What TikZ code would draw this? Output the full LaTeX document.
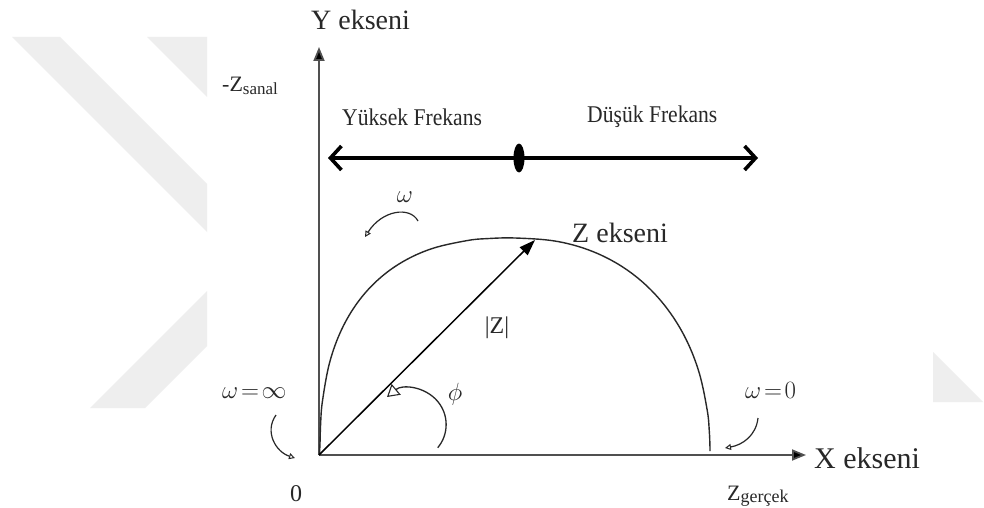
\documentclass[tikz,border=0pt]{standalone}
\usepackage{fontspec}
\usepackage{graphicx}
\setmainfont{Liberation Serif}
\usetikzlibrary{arrows.meta,shapes.geometric}
\definecolor{wm}{RGB}{238,238,238}
\definecolor{axisgray}{RGB}{80,80,80}
\definecolor{ink}{RGB}{40,40,40}
\tikzset{
  axisline/.style={draw=axisgray, line width=1.8pt, -{Triangle[length=14pt,width=11pt,fill=black]}},
  freqline/.style={draw=black, line width=3.6pt, {Straight Barb[length=11pt,width=24pt,line width=3.6pt]}-{Straight Barb[length=11pt,width=24pt,line width=3.6pt]}},
  curveline/.style={draw=ink, line width=1.4pt},
  vecline/.style={draw=black, line width=1.5pt, -{Triangle[length=16pt,width=11pt]}},
  smallarrow/.style={draw=ink, line width=1.2pt, -{Triangle[open,length=6pt,width=6pt,line width=1pt]}},
  lbl/.style={inner sep=0pt, text=ink},
  big/.style={font=\fontsize{28}{30}\selectfont},
  mid/.style={font=\fontsize{24}{26}\selectfont},
  freq/.style={font=\fontsize{24}{26}\selectfont},
}
\begin{document}
\begin{tikzpicture}[x=1pt,y=-1pt]
\useasboundingbox (0,0) rectangle (984,508);
\fill[white] (0,0) rectangle (984,508);
% watermark
\fill[wm] (12,37) -- (60,37) -- (207,184) -- (207,232) -- cycle;
\fill[wm] (147,37) -- (207,37) -- (207,97) -- cycle;
\fill[wm] (90,408) -- (145,408) -- (207,346) -- (207,291) -- cycle;
\fill[wm] (933,352) -- (933,402) -- (983,402) -- cycle;

% coordinates
\coordinate (O) at (319,455);
\coordinate (ytip) at (319,47);
\coordinate (xtip) at (806,455);
\coordinate (fl) at (328,158);
\coordinate (fr) at (758,158);
\coordinate (ztip) at (535,240);

% axes
\draw[axisline] (O) -- (ytip);
\draw[axisline] (O) -- (xtip);

% frequency arrow
\draw[freqline] (fl) -- (fr);
\node[ellipse, fill=black, minimum width=11pt, minimum height=29pt, inner sep=0pt] (dot) at (519,158) {};

% impedance curve
\draw[curveline] plot[smooth, tension=0.6] coordinates {
  (319.5,455) (320.1,440.2) (320.6,424.2) (322.4,401.5) (329.5,363.0) (341.2,330.4)
  (357.5,302.6) (378.1,279.7) (403.0,261.6) (432.3,248.5) (467.0,240.6) (487.3,238.6)
  (515,238) (554.7,241.0) (588.5,249.9) (618.9,264.6) (645.5,284.7) (668.0,309.8)
  (686.1,339.4) (699.3,373.2) (707.3,410.8) (709.3,431.4) (709.9,444.7) (710,451)};

% |Z| vector
\draw[vecline] (O) -- (ztip);

% phi arc
\draw[draw=ink, line width=1.3pt, {Triangle[open,length=12pt,width=14pt,line width=1.1pt]}-] (387,397) arc[start angle=-130, end angle=40, radius=36];

% labels
\node[lbl, big, anchor=base west] (yl) at (311,30) {Y ekseni};
\node[lbl, anchor=base west] (zs) at (222,92) {\fontsize{22}{24}\selectfont -Z\raisebox{-3pt}{\fontsize{17}{18}\selectfont sanal}};
\node[lbl, freq, anchor=base west] (yf) at (342,125) {\scalebox{0.9}[1]{Yüksek Frekans}};
\node[lbl, freq, anchor=base west] (df) at (587,122) {\scalebox{0.9}[1]{Düşük Frekans}};
\node[lbl, big, anchor=base west] (ze) at (572,242) {Z ekseni};
\node[lbl, mid] (zabs) at (497,328) {|Z|};
\node[lbl, mid] (w1) at (405,197) {$\omega$};
\node[lbl, mid, anchor=west] (winf) at (222,393) {$\omega\!=\!\infty$};
\node[lbl, font=\fontsize{26}{28}\selectfont] (phi) at (455,394) {$\phi$};
\node[lbl, mid, anchor=west] (w0) at (745,390) {$\omega\!=\!0$};
\node[lbl, font=\fontsize{24}{26}\selectfont] (zero) at (296,494) {0};
\node[lbl, anchor=base west] (zg) at (727,500) {\fontsize{22}{24}\selectfont Z\raisebox{-2pt}{\fontsize{18}{19}\selectfont gerçek}};
\node[lbl, font=\fontsize{30}{32}\selectfont, anchor=base west] (xl) at (814,468) {X ekseni};

% small curved arrows
\coordinate (a1s) at (418,221);
\coordinate (a1e) at (365,237);
\draw[smallarrow] (a1s) .. controls (410,206) and (382,210) .. (a1e);
\coordinate (a2s) at (276,415);
\coordinate (a2e) at (295,458);
\draw[smallarrow] (a2s) .. controls (264,432) and (276,452) .. (a2e);
\coordinate (a3s) at (758,418);
\coordinate (a3e) at (725,448);
\draw[smallarrow] (a3s) .. controls (756,436) and (742,445) .. (a3e);
\end{tikzpicture}
\end{document}
